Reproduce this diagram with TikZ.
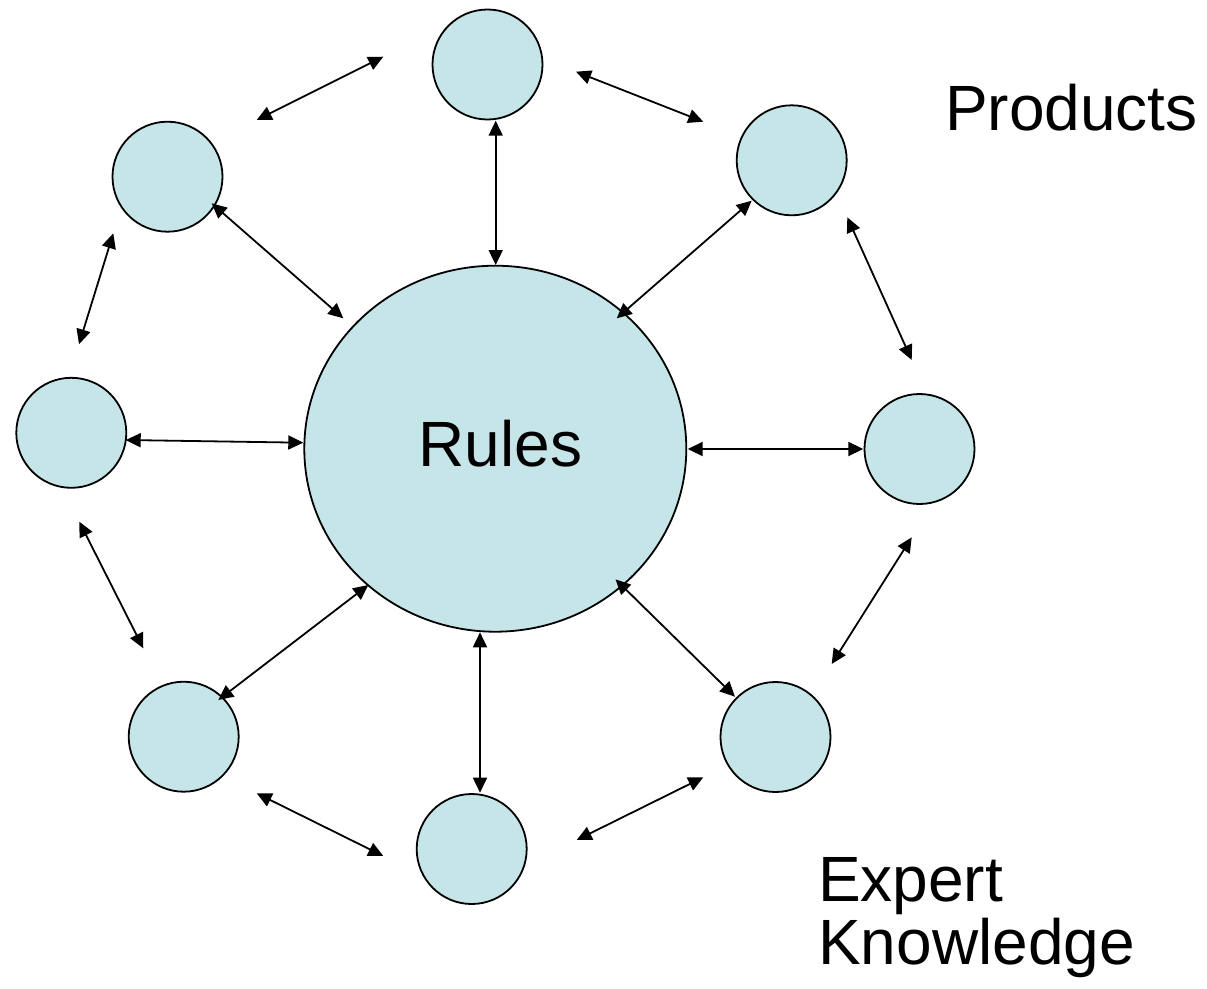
\documentclass[tikz,border=0pt]{standalone}
\usepackage{fontspec}
\setmainfont{Liberation Sans}
\usetikzlibrary{arrows.meta,calc,shapes.geometric}
\definecolor{bubblefill}{RGB}{197,229,232}
\begin{document}
\begin{tikzpicture}[x=1pt,y=-1pt,
  bubble/.style={circle,draw=black,line width=1.8pt,fill=bubblefill,minimum size=110pt,inner sep=0pt},
  hub/.style={ellipse,draw=black,line width=1.8pt,fill=bubblefill,minimum width=382pt,minimum height=366pt,inner sep=0pt},
  link/.style={{Triangle[length=15pt,width=14pt]}-{Triangle[length=15pt,width=14pt]},line width=1.8pt},
  bigtext/.style={font=\fontsize{64}{64}\selectfont,inner sep=0pt,anchor=base west}]
\useasboundingbox (0,0) rectangle (1207,988);
% nodes
\node[hub] (rules) at (495.3,448.7) {};
\node[bubble] (top) at (487.5,64.5) {};
\node[bubble] (tr) at (791.7,160.3) {};
\node[bubble] (right) at (919.5,449) {};
\node[bubble] (br) at (775.5,737) {};
\node[bubble] (bottom) at (471.7,849) {};
\node[bubble] (bl) at (183.7,736.7) {};
\node[bubble] (left) at (71.3,432.8) {};
\node[bubble] (tl) at (167.5,176.7) {};
% texts
\node[bigtext] (rulestext) at (418.4,466.7) {Rules};
\node[bigtext] (products) at (945,130.7) {Products};
\node[bigtext] (expert) at (817.8,901.7) {Expert};
\node[bigtext] (knowledge) at (818,964.5) {Knowledge};
% radial connectors
\draw[link] ($(top)+(8.2,56.2)$) -- ($(rules)+(0.4,-183.7)$);
\draw[link] ($(tr)+(-40,40.4)$) -- ($(rules)+(121.4,-130.4)$);
\draw[link] ($(rules)+(192.4,0.3)$) -- ($(right)+(-56.2,0)$);
\draw[link] ($(rules)+(120.2,130.6)$) -- ($(br)+(-40.5,-40.3)$);
\draw[link] ($(rules)+(-15.3,183.6)$) -- ($(bottom)+(8.3,-56.3)$);
\draw[link] ($(rules)+(-127,136.3)$) -- ($(bl)+(34.6,-36.7)$);
\draw[link] ($(left)+(54.4,7.2)$) -- ($(rules)+(-192,-6)$);
\draw[link] ($(tl)+(44.2,26.6)$) -- ($(rules)+(-152,-130.4)$);
% ring connectors (free ends)
\coordinate (a1) at (256.7,120);   \coordinate (a2) at (383.3,56.7);
\coordinate (b1) at (576,71.7);    \coordinate (b2) at (703.3,121.7);
\coordinate (c1) at (847.3,217.3); \coordinate (c2) at (911.7,360);
\coordinate (d1) at (911.7,537.3); \coordinate (d2) at (831.7,664);
\coordinate (e1) at (703.3,777.3); \coordinate (e2) at (576.7,840);
\coordinate (f1) at (383.3,856);   \coordinate (f2) at (256.7,793.3);
\coordinate (g1) at (143.3,648.3); \coordinate (g2) at (79.3,521.7);
\coordinate (h1) at (113.3,233.3); \coordinate (h2) at (79,344.3);
\draw[link] (a1) -- (a2);
\draw[link] (b1) -- (b2);
\draw[link] (c1) -- (c2);
\draw[link] (d1) -- (d2);
\draw[link] (e1) -- (e2);
\draw[link] (f1) -- (f2);
\draw[link] (g1) -- (g2);
\draw[link] (h1) -- (h2);
\end{tikzpicture}
\end{document}
